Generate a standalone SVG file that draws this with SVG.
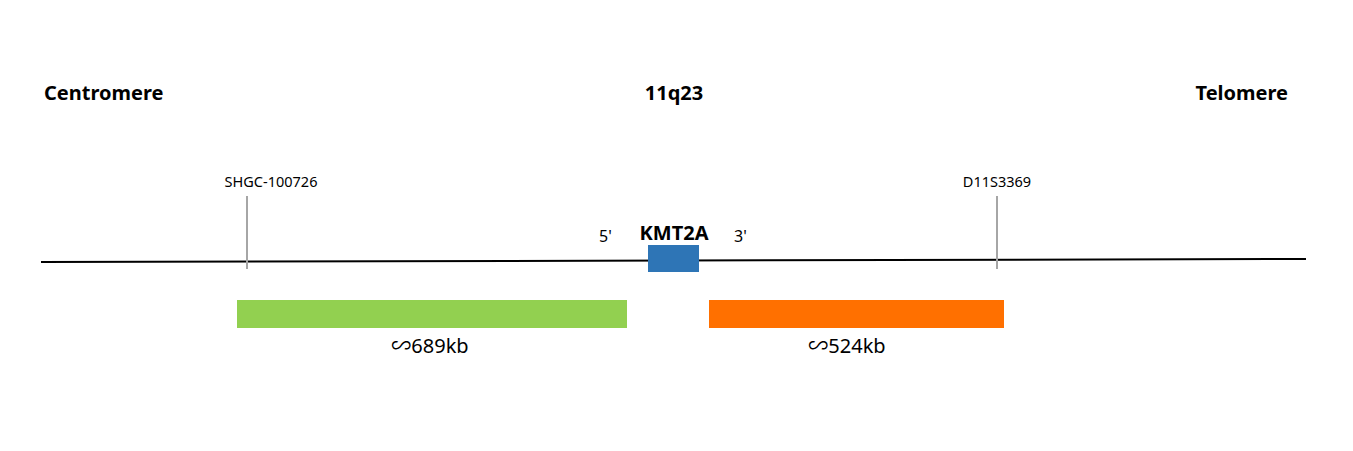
<svg xmlns="http://www.w3.org/2000/svg" width="1353" height="451" viewBox="0 0 1353 451">
<style>
.t{font-family:"Noto Sans","Liberation Sans","Noto Sans CJK SC",sans-serif;fill:#000}
.b{font-weight:bold;font-size:20px}
.m{font-size:14.5px;text-anchor:middle}
.k{font-size:20px;text-anchor:middle}
.tick{stroke:#a6a6a6;stroke-width:2}
</style>
<rect width="1353" height="451" fill="#fff"/>
<g id="labels">
<text class="t b" x="44" y="100">Centromere</text>
<text class="t b" x="674" y="100" text-anchor="middle">11q23</text>
<text class="t b" x="1288" y="100" text-anchor="end">Telomere</text>
</g>
<g id="connectors">
<line x1="41" y1="262" x2="1306" y2="259" stroke="#000" stroke-width="2"/>
<line class="tick" x1="247" y1="196" x2="247" y2="269"/>
<line class="tick" x1="997" y1="196" x2="997" y2="269"/>
</g>
<g id="marker-shgc"><text class="t m" x="271" y="187">SHGC-100726</text></g>
<g id="marker-d11"><text class="t m" x="997" y="187">D11S3369</text></g>
<g id="kmt2a">
<rect x="648" y="245" width="51" height="27" fill="#2e75b6"/>
<text class="t b" x="674" y="240" text-anchor="middle" font-size="21px">KMT2A</text>
<text class="t" x="599" y="242" font-size="16">5'</text>
<text class="t" x="734" y="242" font-size="16">3'</text>
</g>
<g id="probe-5"><rect x="237" y="300" width="390" height="28" fill="#92d050"/>
<text class="t k" x="430" y="353">∽689kb</text></g>
<g id="probe-3"><rect x="709" y="300" width="295" height="28" fill="#ff7000"/>
<text class="t k" x="847" y="353">∽524kb</text></g>
</svg>
